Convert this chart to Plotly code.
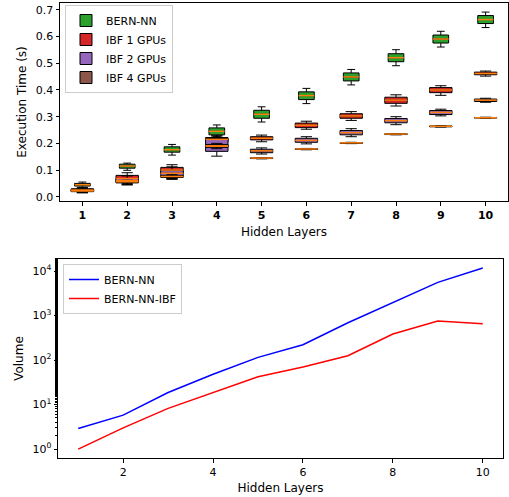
import plotly.graph_objects as go

W, H = 509, 497

layers = [1, 2, 3, 4, 5, 6, 7, 8, 9, 10]

# BERN-NN execution time (s): whisker low, Q1, median, Q3, whisker high
bern_lo = [0.035, 0.099, 0.156, 0.225, 0.280, 0.349, 0.419, 0.491, 0.561, 0.634]
bern_q1 = [0.040, 0.107, 0.167, 0.232, 0.294, 0.364, 0.434, 0.506, 0.576, 0.649]
bern_med = [0.045, 0.115, 0.176, 0.245, 0.309, 0.379, 0.449, 0.521, 0.591, 0.664]
bern_q3 = [0.050, 0.122, 0.187, 0.258, 0.324, 0.393, 0.464, 0.536, 0.606, 0.679]
bern_hi = [0.055, 0.126, 0.196, 0.269, 0.337, 0.406, 0.477, 0.551, 0.620, 0.692]

# IBF 1 GPU
ibf1_lo = [0.015, 0.046, 0.068, 0.195, 0.206, 0.253, 0.286, 0.340, 0.380, 0.452]
ibf1_q1 = [0.020, 0.058, 0.090, 0.205, 0.213, 0.259, 0.294, 0.350, 0.390, 0.457]
ibf1_med = [0.025, 0.068, 0.100, 0.215, 0.219, 0.268, 0.303, 0.362, 0.400, 0.462]
ibf1_q3 = [0.030, 0.080, 0.110, 0.222, 0.225, 0.276, 0.311, 0.373, 0.409, 0.467]
ibf1_hi = [0.035, 0.090, 0.120, 0.228, 0.231, 0.283, 0.319, 0.382, 0.416, 0.471]

# IBF 2 GPUs
ibf2_lo = [0.015, 0.044, 0.065, 0.152, 0.160, 0.198, 0.225, 0.270, 0.303, 0.354]
ibf2_q1 = [0.019, 0.052, 0.078, 0.170, 0.165, 0.204, 0.232, 0.277, 0.308, 0.357]
ibf2_med = [0.023, 0.060, 0.088, 0.190, 0.172, 0.211, 0.240, 0.285, 0.316, 0.362]
ibf2_q3 = [0.027, 0.068, 0.098, 0.218, 0.178, 0.219, 0.248, 0.293, 0.323, 0.366]
ibf2_hi = [0.032, 0.078, 0.112, 0.228, 0.183, 0.225, 0.255, 0.300, 0.328, 0.369]

# IBF 4 GPUs
ibf4_lo = [0.018, 0.050, 0.068, 0.180, 0.142, 0.176, 0.199, 0.232, 0.261, 0.294]
ibf4_q1 = [0.020, 0.053, 0.072, 0.185, 0.143, 0.177, 0.200, 0.233, 0.262, 0.295]
ibf4_med = [0.022, 0.056, 0.076, 0.190, 0.145, 0.179, 0.202, 0.235, 0.264, 0.296]
ibf4_q3 = [0.024, 0.059, 0.080, 0.196, 0.146, 0.180, 0.203, 0.236, 0.265, 0.297]
ibf4_hi = [0.026, 0.062, 0.084, 0.200, 0.147, 0.181, 0.204, 0.237, 0.266, 0.298]

# Volume (log scale)
vol_bern = [2.9, 5.8, 18.7, 48, 115, 221, 690, 2000, 5570, 11700]
vol_ibf = [1.0, 3.0, 8.2, 18.8, 42, 70, 125, 384, 752, 655]

log_tickvals = [1, 10, 100, 1000, 10000]
log_ticktext = ["10<sup>0</sup>", "10<sup>1</sup>", "10<sup>2</sup>", "10<sup>3</sup>", "10<sup>4</sup>"]

FONT = "DejaVu Sans"
fig = go.Figure()

series = [
    ("BERN-NN", "#2ca02c", 0.35, bern_lo, bern_q1, bern_med, bern_q3, bern_hi),
    ("IBF 1 GPUs", "#d62728", 0.5, ibf1_lo, ibf1_q1, ibf1_med, ibf1_q3, ibf1_hi),
    ("IBF 2 GPUs", "#9467bd", 0.5, ibf2_lo, ibf2_q1, ibf2_med, ibf2_q3, ibf2_hi),
    ("IBF 4 GPUs", "#8c564b", 0.5, ibf4_lo, ibf4_q1, ibf4_med, ibf4_q3, ibf4_hi),
]

x_dom = [60 / W, 508 / W]
x_range = [0.5, 10.5]
px_per_unit = (x_dom[1] - x_dom[0]) * W / (x_range[1] - x_range[0])

for name, color, width, lo, q1, med, q3, hi in series:
    fig.add_trace(go.Box(
        x=layers, lowerfence=lo, q1=q1, median=med, q3=q3, upperfence=hi,
        name=name, fillcolor=color, line=dict(color="black", width=1),
        width=width, whiskerwidth=0.5, boxpoints=False,
        xaxis="x", yaxis="y", legend="legend",
    ))
    fig.add_trace(go.Scatter(
        x=layers, y=med, mode="markers", showlegend=False, hoverinfo="skip",
        marker=dict(symbol="line-ew", size=width * px_per_unit / 1.4,
                    line=dict(color="#ff7f0e", width=1.5)),
        xaxis="x", yaxis="y",
    ))

fig.add_trace(go.Scatter(x=layers, y=vol_bern, mode="lines", name="BERN-NN",
                         line=dict(color="#0000ff", width=1.5),
                         xaxis="x2", yaxis="y2", legend="legend2"))
fig.add_trace(go.Scatter(x=layers, y=vol_ibf, mode="lines", name="BERN-NN-IBF",
                         line=dict(color="#ff0000", width=1.5),
                         xaxis="x2", yaxis="y2", legend="legend2"))

tick_font = dict(family=FONT, size=11, color="black", weight="normal")
title_font = dict(family=FONT, size=12, color="black", weight="normal")
axis_common = dict(showline=True, linecolor="black", linewidth=1, mirror=True,
                   ticks="outside", ticklen=3.5, tickcolor="black", showgrid=False,
                   zeroline=False, automargin=False)

fig.update_layout(
    width=W, height=H, margin=dict(l=0, r=0, t=0, b=0, autoexpand=False),
    paper_bgcolor="white", plot_bgcolor="white", boxmode="overlay",
    font=dict(family=FONT, size=11, color="black"),
    xaxis=dict(domain=x_dom, range=x_range, tickvals=layers, anchor="y",
               tickfont=dict(family=FONT, size=11, color="black", weight="bold"),
               title=dict(text="Hidden Layers", font=title_font, standoff=6),
               **axis_common),
    yaxis=dict(domain=[1 - 201 / H, 1 - 3 / H], range=[-0.016, 0.726], anchor="x",
               tickvals=[0, 0.1, 0.2, 0.3, 0.4, 0.5, 0.6, 0.7], tickformat=".1f",
               tickfont=tick_font,
               title=dict(text="Execution Time (s)", font=title_font, standoff=6),
               **axis_common),
    xaxis2=dict(domain=[58 / W, 503 / W], range=[0.55, 10.45], anchor="y2",
                tickvals=[2, 4, 6, 8, 10], tickfont=tick_font,
                title=dict(text="Hidden Layers", font=title_font, standoff=5),
                **axis_common),
    yaxis2=dict(domain=[1 - 458 / H, 1 - 259 / H], type="log", range=[-0.2, 4.27],
                anchor="x2", tickvals=log_tickvals, ticktext=log_ticktext,
                tickfont=tick_font,
                minor=dict(ticks="outside", ticklen=2, tickcolor="black", showgrid=False),
                title=dict(text="Volume", font=title_font, standoff=6),
                **axis_common),
    legend=dict(x=65 / W, y=1 - 5 / H, xanchor="left", yanchor="top",
                bgcolor="rgba(255,255,255,0.8)", bordercolor="#cccccc", borderwidth=1,
                font=dict(family=FONT, size=11), tracegroupgap=0),
    legend2=dict(x=63 / W, y=1 - 264 / H, xanchor="left", yanchor="top",
                 bgcolor="rgba(255,255,255,0.8)", bordercolor="#cccccc", borderwidth=1,
                 font=dict(family=FONT, size=11), tracegroupgap=0),
)

fig.write_html("out.html", config={"displayModeBar": False},
               post_script="document.body.style.margin='0';")
